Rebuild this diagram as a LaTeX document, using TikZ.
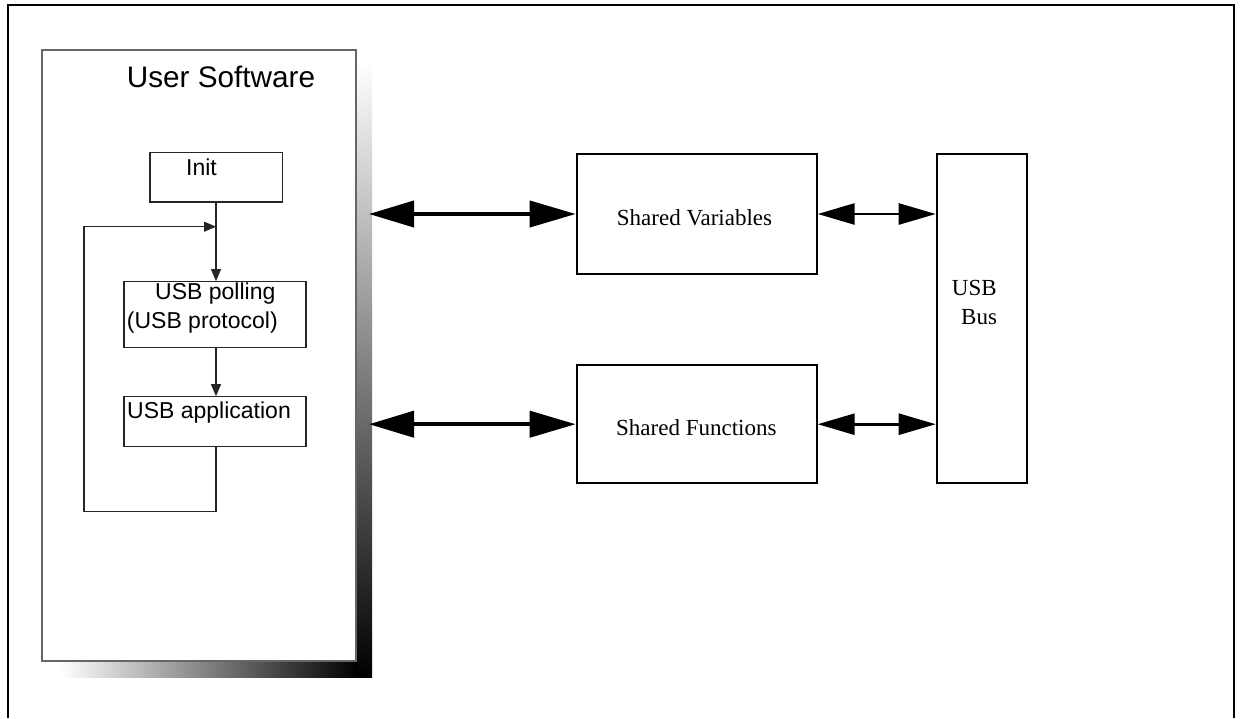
\documentclass[tikz,border=0pt]{standalone}
\usepackage{fontspec}
\setmainfont{Liberation Serif}
\newfontfamily\arialf{Liberation Sans}
\usetikzlibrary{arrows.meta}
\tikzset{
  thinbox/.style={draw=black!85, line width=1.1pt, fill=white, rectangle, inner sep=0pt},
  outerbox/.style={draw=black!60, line width=1.2pt, fill=white, rectangle, inner sep=0pt},
  boldbox/.style={draw=black, line width=2pt, fill=white, rectangle, inner sep=0pt},
  txt/.style={anchor=base west, inner sep=0pt, text=black},
  sanstxt/.style={txt, font=\arialf\fontsize{23}{27}\selectfont},
  seriftxt/.style={txt, font=\fontsize{23}{27}\selectfont},
  flow/.style={draw=black!85, line width=1.1pt},
  flowarrow/.style={flow, -{Triangle[length=12pt,width=10pt]}},
  bigarrow/.style={line width=4pt, {Triangle[length=45pt,width=26pt]}-{Triangle[length=46pt,width=26pt]}},
  midarrow/.style={line width=2.7pt, {Triangle[length=37pt,width=21pt]}-{Triangle[length=37pt,width=21pt]}},
}
\begin{document}
\begin{tikzpicture}[x=1pt,y=-1pt]
\useasboundingbox (0,0) rectangle (1240,718);
% outer frame
\draw[line width=2pt] (8,718) -- (8,5) -- (1234,5) -- (1234,718);
% shadow of user software box
\shade[top color=white, bottom color=black] (356,63) rectangle (372,677);
\shade[left color=white, right color=black] (60,661) rectangle (357,677);
% boxes
\node[outerbox, minimum width=314pt, minimum height=611pt] (us) at (199,355.5) {};
\node[thinbox, minimum width=132.7pt, minimum height=49.3pt] (init) at (216.3,177.3) {};
\node[thinbox, minimum width=182pt, minimum height=65.6pt] (poll) at (215,314.5) {};
\node[thinbox, minimum width=182pt, minimum height=50pt] (app) at (215,421.7) {};
\node[boldbox, minimum width=240pt, minimum height=120pt] (sv) at (696.7,214) {};
\node[boldbox, minimum width=240pt, minimum height=118.3pt] (sf) at (696.7,424.2) {};
\node[boldbox, minimum width=90pt, minimum height=329.3pt] (bus) at (981.7,318.7) {};
% texts
\node[txt, font=\arialf\fontsize{29.7}{34}\selectfont] (ust) at (126.7,87.3) {User Software};
\node[sanstxt] (initt) at (186,175) {Init};
\node[sanstxt] (pollt1) at (155,299.3) {USB polling};
\node[sanstxt] (pollt2) at (126.7,328.3) {(USB protocol)};
\node[sanstxt] (appt) at (127,418.3) {USB application};
\node[seriftxt] (svt) at (616.7,225) {Shared Variables};
\node[seriftxt] (sft) at (616,435) {Shared Functions};
\node[seriftxt] (bust1) at (951.7,295) {USB};
\node[seriftxt] (bust2) at (961,324) {Bus};
% flow inside user software
\coordinate (jn) at (216,226.7);
\coordinate (lpa) at (216,511.7);
\coordinate (lpb) at (84,511.7);
\coordinate (lpc) at (84,226.7);
\draw[flowarrow] (init.south -| jn) -- (poll.north -| jn);
\draw[flowarrow] (poll.south -| jn) -- (app.north -| jn);
\draw[flowarrow] (app.south -| lpa) -- (lpa) -- (lpb) -- (lpc) -- (jn);
% big arrows
\coordinate (usv) at (369,214);
\coordinate (usf) at (369,424.2);
\draw[bigarrow] (usv) -- (sv.west);
\draw[bigarrow] (usf) -- (sf.west);
% arrows to bus
\draw[midarrow] (sv.east) -- (sv.east -| bus.west);
\draw[midarrow] (sf.east) -- (sf.east -| bus.west);
\end{tikzpicture}
\end{document}
